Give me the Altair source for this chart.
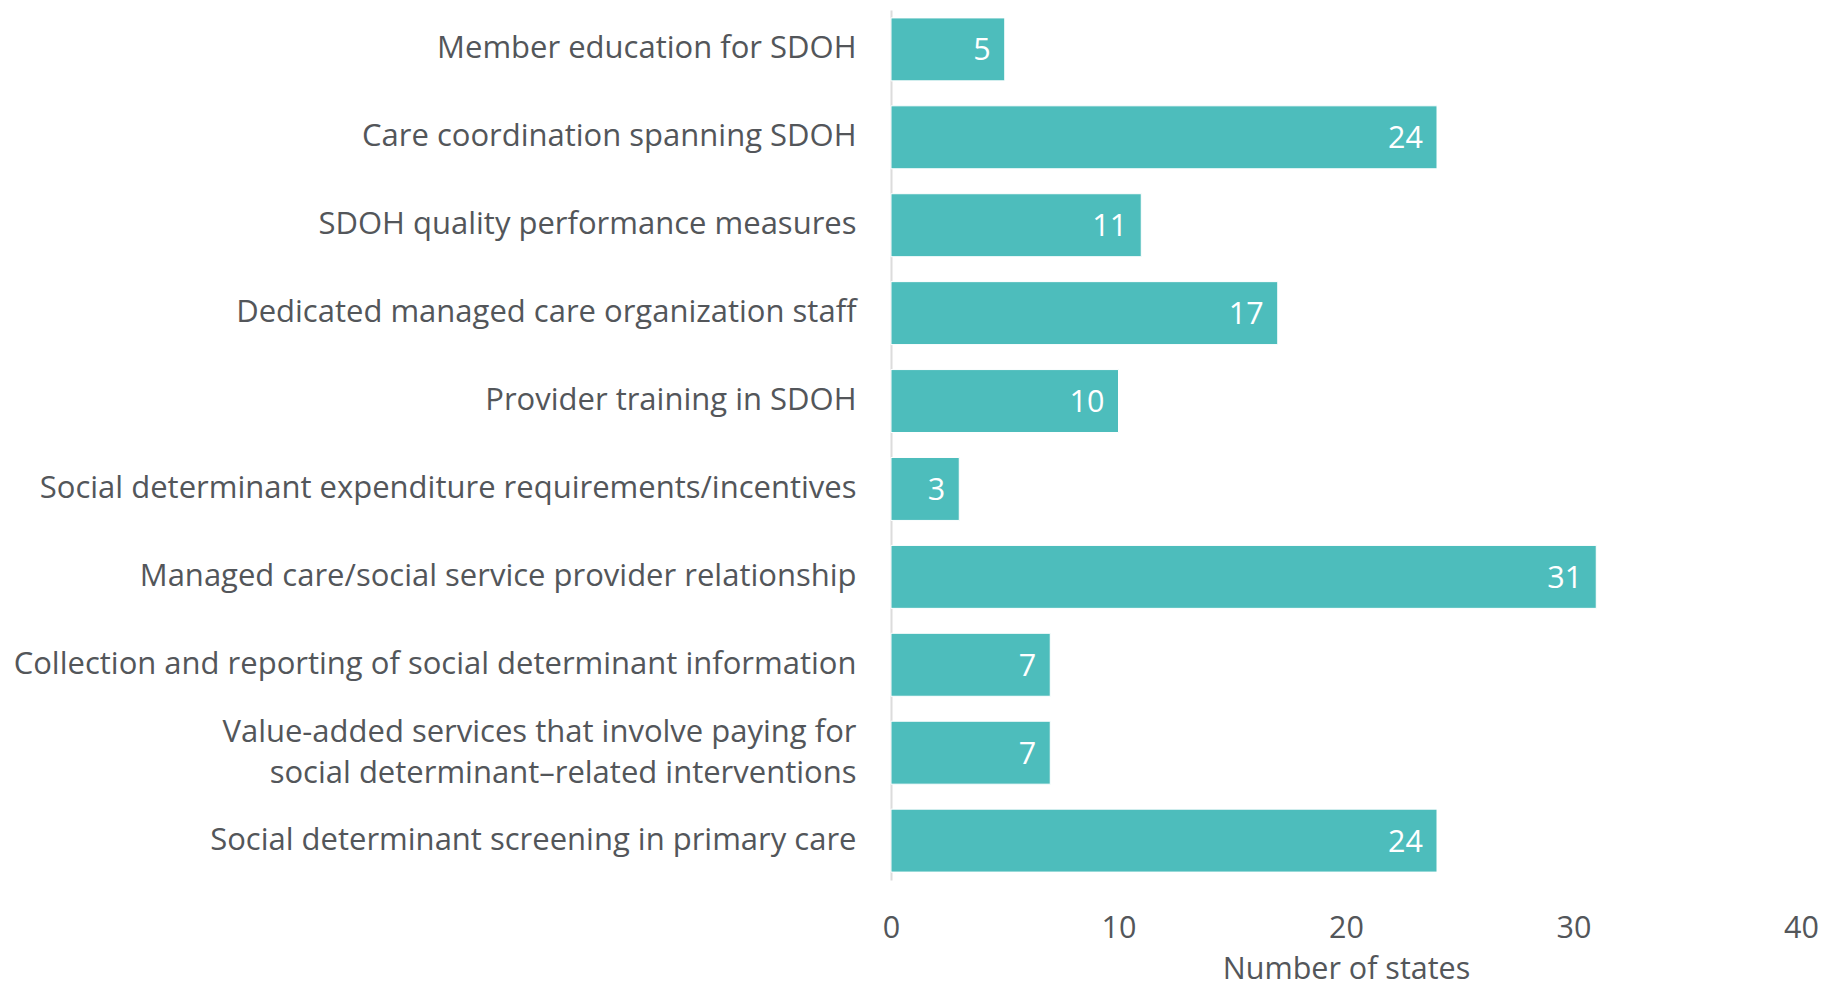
import altair as alt
import pandas as pd

categories = [
    "Member education for SDOH",
    "Care coordination spanning SDOH",
    "SDOH quality performance measures",
    "Dedicated managed care organization staff",
    "Provider training in SDOH",
    "Social determinant expenditure requirements/incentives",
    "Managed care/social service provider relationship",
    "Collection and reporting of social determinant information",
    "Value-added services that involve paying for|social determinant\u2013related interventions",
    "Social determinant screening in primary care",
]
values = [5, 24, 11, 17, 10, 3, 31, 7, 7, 24]

df = pd.DataFrame({"cat": categories, "val": values})

FONT = "Open Sans"
TXT = "#53565A"
BAR = "#4DBDBC"
FS = 30.5

y = alt.Y(
    "cat:N",
    sort=categories,
    title=None,
    scale=alt.Scale(paddingInner=0.284, paddingOuter=0.09),
    axis=alt.Axis(
        labelExpr="split(datum.label, '|')",
        labelFont=FONT,
        labelFontSize=31,
        labelColor=TXT,
        labelPadding=35,
        labelLineHeight=41,
        labelLimit=1000,
        labelOffset={"condition": {"test": "indexof(datum.value, '|') >= 0", "value": -20}, "value": 0},
        ticks=False,
        domain=True,
        domainColor="#DCDCDC",
        domainWidth=2,
        grid=False,
    ),
)
x = alt.X(
    "val:Q",
    title="Number of states",
    scale=alt.Scale(domain=[0, 40]),
    axis=alt.Axis(
        values=[0, 10, 20, 30, 40],
        labelFont=FONT,
        labelFontSize=FS,
        labelColor=TXT,
        labelPadding=33,
        labelFlush=False,
        ticks=False,
        domain=False,
        grid=False,
        titleFont=FONT,
        titleFontSize=FS,
        titleFontWeight="normal",
        titleColor=TXT,
        titlePadding=11,
    ),
)

bars = alt.Chart(df).mark_bar(color=BAR, stroke="#FFFFFF", strokeWidth=1).encode(x=x, y=y)
labels = alt.Chart(df).mark_text(
    align="right", baseline="middle", dx=-14, dy=2, color="#FFFFFF", font=FONT, fontSize=FS
).encode(x="val:Q", y=alt.Y("cat:N", sort=categories), text="val:Q")

chart = (
    alt.layer(bars, labels)
    .properties(
        width=910,
        height=870,
        background="#FFFFFF",
        autosize=alt.AutoSizeParams(type="none"),
        padding={"left": 883, "top": 2, "right": 23, "bottom": 110},
    )
    .configure_view(stroke=None, strokeWidth=0)
)

chart.save("out.html", embed_options={"renderer": "svg", "actions": False})
